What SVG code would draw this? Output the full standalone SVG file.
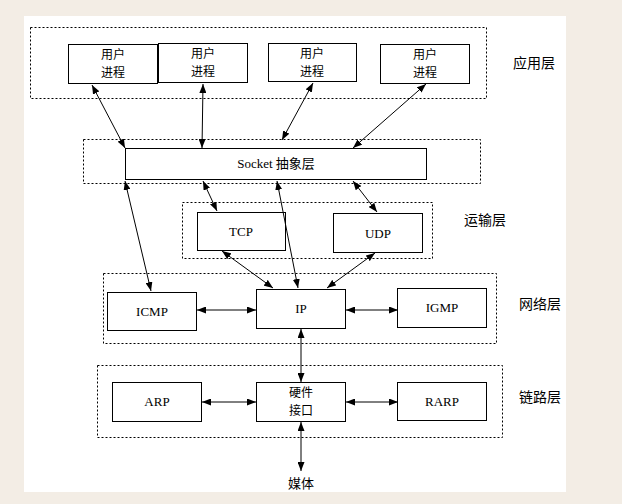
<svg xmlns="http://www.w3.org/2000/svg" width="622" height="504" viewBox="0 0 622 504">
<defs>
<marker id="ah" markerUnits="userSpaceOnUse" markerWidth="9" markerHeight="7" viewBox="0 0 9 7" refX="9" refY="3.5" orient="auto-start-reverse">
<path d="M0,0 L9,3.5 L0,7 z" fill="#000"/>
</marker>
<style>
.layer{fill:none;stroke:#000;stroke-width:1;stroke-dasharray:2,2}
.box{fill:#fff;stroke:#000;stroke-width:1}
.t{font-family:"Liberation Serif","Noto Sans CJK SC",serif;font-size:13px;fill:#000;text-anchor:middle}
.c{font-family:"Noto Sans CJK SC",sans-serif;font-size:12px;fill:#000;text-anchor:middle}
.lbl{font-family:"Noto Sans CJK SC",sans-serif;font-size:14px;fill:#000;text-anchor:start}
.cn{fill:none;stroke:#000;stroke-width:1;marker-start:url(#ah);marker-end:url(#ah)}
</style>
</defs>
<rect x="0" y="0" width="622" height="504" fill="#f3ede5"/>
<rect x="24" y="16" width="542" height="476" fill="#fff"/>

<g id="layers">
<rect class="layer" x="30.5" y="27.5" width="456" height="71"/>
<rect class="layer" x="83.5" y="139.5" width="397" height="44"/>
<rect class="layer" x="182.5" y="202.5" width="250" height="56"/>
<rect class="layer" x="103.5" y="273.5" width="393" height="70"/>
<rect class="layer" x="97.5" y="365.5" width="405" height="72"/>
</g>

<g id="labels">
<text class="lbl" x="513" y="68">应用层</text>
<text class="lbl" x="464" y="225">运输层</text>
<text class="lbl" x="519" y="309">网络层</text>
<text class="lbl" x="519" y="402">链路层</text>
</g>

<g id="proc1"><rect class="box" x="68.5" y="44.5" width="89" height="39"/><text class="c" x="113" y="59">用户</text><text class="c" x="113" y="76.5">进程</text></g>
<g id="proc2"><rect class="box" x="158.5" y="43.5" width="89" height="39"/><text class="c" x="203" y="58">用户</text><text class="c" x="203" y="75.5">进程</text></g>
<g id="proc3"><rect class="box" x="268.5" y="43.5" width="88" height="38"/><text class="c" x="312" y="58">用户</text><text class="c" x="312" y="75.5">进程</text></g>
<g id="proc4"><rect class="box" x="380.5" y="44.5" width="89" height="39"/><text class="c" x="425" y="59">用户</text><text class="c" x="425" y="76.5">进程</text></g>

<g id="socket"><rect class="box" x="125.5" y="148.5" width="301" height="31"/><text class="t" x="276" y="168">Socket 抽象层</text></g>
<g id="tcp"><rect class="box" x="197.5" y="212.5" width="88" height="38"/><text class="t" x="241" y="236">TCP</text></g>
<g id="udp"><rect class="box" x="333.5" y="213.5" width="89" height="39"/><text class="t" x="378" y="238">UDP</text></g>
<g id="icmp"><rect class="box" x="107.5" y="292.5" width="89" height="38"/><text class="t" x="152" y="316">ICMP</text></g>
<g id="ip"><rect class="box" x="256.5" y="289.5" width="89" height="39"/><text class="t" x="301" y="313">IP</text></g>
<g id="igmp"><rect class="box" x="397.5" y="288.5" width="89" height="39"/><text class="t" x="442" y="312">IGMP</text></g>
<g id="arp"><rect class="box" x="112.5" y="382.5" width="89" height="39"/><text class="t" x="157" y="406">ARP</text></g>
<g id="hw"><rect class="box" x="256.5" y="382.5" width="89" height="39"/><text class="c" x="301" y="397">硬件</text><text class="c" x="301" y="414.5">接口</text></g>
<g id="rarp"><rect class="box" x="397.5" y="382.5" width="89" height="38"/><text class="t" x="442" y="406">RARP</text></g>
<g id="media"><text class="c" x="301" y="488" style="font-size:13px">媒体</text></g>

<g id="connectors">
<line class="cn" x1="92" y1="85" x2="125" y2="148"/>
<line class="cn" x1="203" y1="84" x2="202" y2="148"/>
<line class="cn" x1="313" y1="83" x2="282" y2="140"/>
<line class="cn" x1="426" y1="84" x2="353" y2="148"/>
<line class="cn" x1="125" y1="181" x2="151" y2="291"/>
<line class="cn" x1="203" y1="181" x2="217" y2="211"/>
<line class="cn" x1="277" y1="181" x2="298" y2="288"/>
<line class="cn" x1="353" y1="181" x2="377" y2="212"/>
<line class="cn" x1="222" y1="251" x2="273" y2="288"/>
<line class="cn" x1="375" y1="253" x2="327" y2="288"/>
<line class="cn" x1="197" y1="310" x2="256" y2="310"/>
<line class="cn" x1="346" y1="310" x2="398" y2="310"/>
<line class="cn" x1="301" y1="329" x2="301" y2="382"/>
<line class="cn" x1="202" y1="402" x2="256" y2="402"/>
<line class="cn" x1="346" y1="402" x2="398" y2="402"/>
<line class="cn" x1="301" y1="422" x2="301" y2="471"/>
</g>
</svg>
